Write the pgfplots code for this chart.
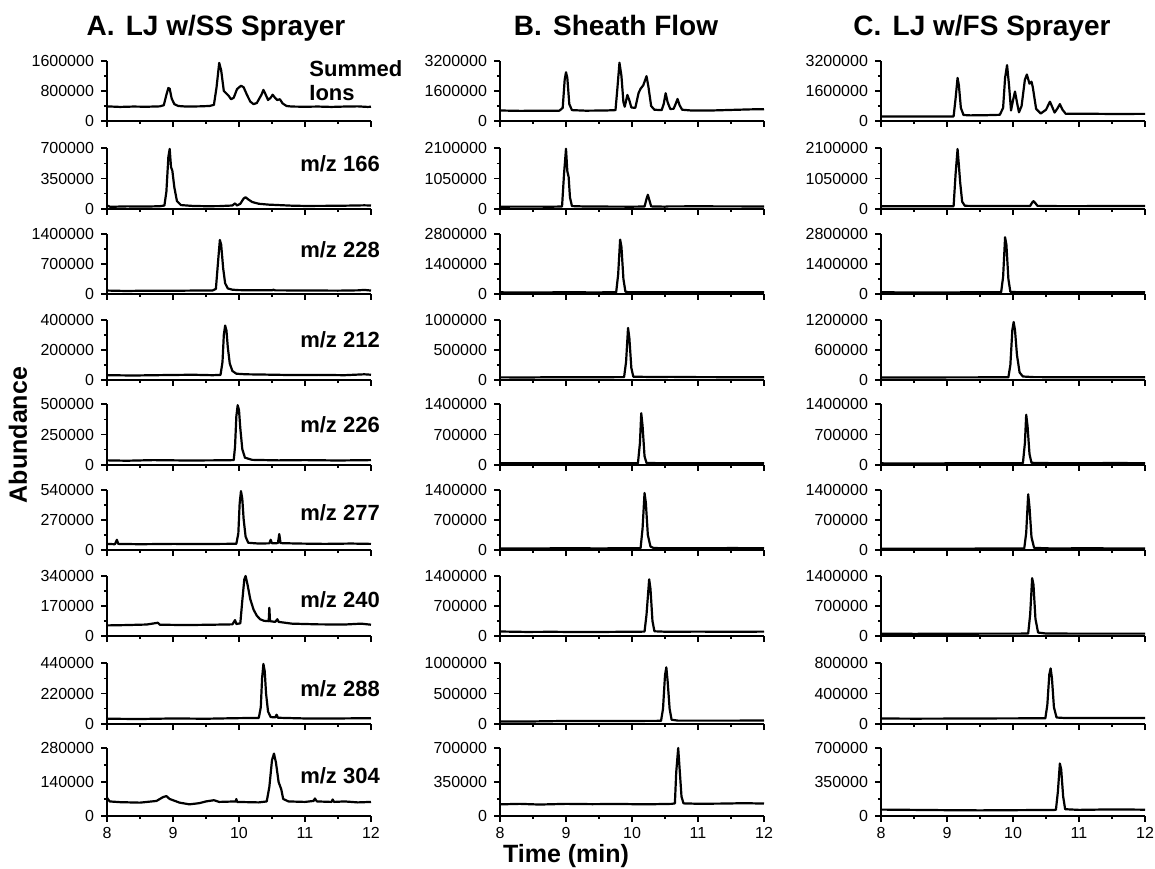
\documentclass[border=0pt]{standalone}
\usepackage{fontspec}
\setmainfont{Liberation Sans}
\usepackage{pgfplots}
\pgfplotsset{compat=1.18}

\pgfplotsset{
  chrom/.style={scale only axis, width=132pt, anchor=south west,
    axis x line=bottom, axis y line=left, axis line style={-, line width=0.8pt},
    xmin=8, xmax=12, ymin=0, xtick={8,9,10,11,12}, xticklabels={},
    minor x tick num=1, minor y tick num=1, tick align=outside,
    major tick length=3pt, minor tick length=1.6pt,
    every tick/.style={black, line width=0.6pt},
    scaled y ticks=false,
    tick label style={font=\fontsize{8}{9}\selectfont},
    xticklabel style={yshift=1pt},
    /pgf/number format/assume math mode=true, clip=false},
  tr/.style={black, line width=1.1pt, line join=round, mark=none},
}
\tikzset{lab/.style={anchor=east, font=\bfseries\fontsize{11}{12}\selectfont}}

\begin{document}
\begin{tikzpicture}
\path[use as bounding box] (0,0) rectangle (577.5pt,434pt);

\node[anchor=base, font=\bfseries\fontsize{14}{16}\selectfont] at (108pt,416pt) {A.\hspace{0.4em}LJ w/SS Sprayer};
\node[anchor=base, font=\bfseries\fontsize{14}{16}\selectfont] at (308pt,416pt) {B.\hspace{0.4em}Sheath Flow};
\node[anchor=base, font=\bfseries\fontsize{14}{16}\selectfont] at (491pt,416pt) {C.\hspace{0.4em}LJ w/FS Sprayer};
\node[font=\bfseries\fontsize{12.5}{14}\selectfont, rotate=90] at (9pt,216.5pt) {Abundance};
\node[font=\bfseries\fontsize{12.5}{14}\selectfont] at (283pt,6pt) {Time (min)};

% ---------------- column A ----------------
\begin{axis}[chrom, at={(53.5pt,373.5pt)}, height=30pt, ymax=1600000,
  ytick={0,800000,1600000}, yticklabels={0,800000,1600000}]
\addplot[tr] coordinates {(8.00,390000)(8.2,375000)(8.4,385000)(8.6,380000)(8.8,390000)(8.86,420000)(8.9,700000)(8.93,880000)(8.95,860000)(8.98,600000)(9.02,450000)(9.08,400000)(9.2,385000)(9.4,390000)(9.55,400000)(9.62,430000)(9.66,900000)(9.70,1550000)(9.73,1350000)(9.77,800000)(9.80,750000)(9.84,680000)(9.88,580000)(9.92,620000)(9.97,850000)(10.03,940000)(10.07,900000)(10.12,700000)(10.17,520000)(10.22,450000)(10.27,480000)(10.34,700000)(10.37,830000)(10.40,720000)(10.44,560000)(10.48,620000)(10.51,700000)(10.55,610000)(10.58,560000)(10.62,580000)(10.66,470000)(10.72,400000)(10.8,385000)(11.0,380000)(11.2,385000)(11.4,375000)(11.6,385000)(11.8,390000)(11.95,375000)(12.0,380000)};
\node[anchor=west, align=left, font=\bfseries\fontsize{11}{12}\selectfont] at (rel axis cs:0.74,0.68) {Summed\\Ions};
\end{axis}

\begin{axis}[chrom, at={(53.5pt,329.5pt)}, height=30.5pt, ymax=700000,
  ytick={0,350000,700000}, yticklabels={0,350000,700000}]
\addplot[tr] coordinates {(8.0,40000)(8.05,25000)(8.3,30000)(8.6,28000)(8.8,32000)(8.87,40000)(8.90,200000)(8.93,600000)(8.95,690000)(8.97,480000)(8.99,440000)(9.02,250000)(9.06,90000)(9.12,45000)(9.3,35000)(9.5,32000)(9.7,33000)(9.9,40000)(9.94,65000)(9.97,40000)(10.02,60000)(10.07,120000)(10.10,135000)(10.14,110000)(10.2,80000)(10.3,60000)(10.45,50000)(10.6,45000)(10.8,38000)(11.0,35000)(11.3,36000)(11.6,38000)(11.9,42000)(12.0,40000)};
\node[lab] at (rel axis cs:1.06,0.75) {m/z 166};
\end{axis}

\begin{axis}[chrom, at={(53.5pt,287pt)}, height=30pt, ymax=1400000,
  ytick={0,700000,1400000}, yticklabels={0,700000,1400000}]
\addplot[tr] coordinates {(8.0,80000)(8.3,70000)(8.6,78000)(9.0,75000)(9.3,80000)(9.6,82000)(9.65,120000)(9.68,700000)(9.71,1260000)(9.73,1150000)(9.76,600000)(9.79,250000)(9.83,130000)(9.9,100000)(10.0,90000)(10.5,85000)(10.52,100000)(10.55,85000)(11.0,82000)(11.5,78000)(11.8,85000)(11.9,95000)(12.0,80000)};
\node[lab] at (rel axis cs:1.06,0.73) {m/z 228};
\end{axis}

\begin{axis}[chrom, at={(53.5pt,244pt)}, height=30pt, ymax=400000,
  ytick={0,200000,400000}, yticklabels={0,200000,400000}]
\addplot[tr] coordinates {(8.0,32000)(8.4,30000)(8.9,33000)(9.3,35000)(9.6,32000)(9.72,34000)(9.75,120000)(9.77,300000)(9.79,363000)(9.81,330000)(9.83,220000)(9.86,110000)(9.9,60000)(9.96,42000)(10.1,38000)(10.4,36000)(10.8,33000)(11.2,34000)(11.6,32000)(11.9,38000)(12.0,35000)};
\node[lab] at (rel axis cs:1.06,0.67) {m/z 212};
\end{axis}

\begin{axis}[chrom, at={(53.5pt,201.5pt)}, height=30.5pt, ymax=500000,
  ytick={0,250000,500000}, yticklabels={0,250000,500000}]
\addplot[tr] coordinates {(8.0,38000)(8.3,35000)(8.7,40000)(9.2,37000)(9.6,38000)(9.92,40000)(9.94,150000)(9.96,400000)(9.98,490000)(10.00,450000)(10.02,300000)(10.05,130000)(10.09,60000)(10.2,42000)(10.6,38000)(11.0,40000)(11.5,37000)(12.0,40000)};
\node[lab] at (rel axis cs:1.06,0.66) {m/z 226};
\end{axis}

\begin{axis}[chrom, at={(53.5pt,159pt)}, height=30pt, ymax=540000,
  ytick={0,270000,540000}, yticklabels={0,270000,540000}]
\addplot[tr] coordinates {(8.0,55000)(8.12,52000)(8.15,92000)(8.17,55000)(8.5,52000)(9.0,55000)(9.5,54000)(9.96,56000)(9.99,150000)(10.01,420000)(10.03,530000)(10.05,460000)(10.07,280000)(10.1,120000)(10.14,65000)(10.3,58000)(10.46,60000)(10.48,92000)(10.5,60000)(10.59,62000)(10.61,143000)(10.63,62000)(10.9,58000)(11.3,55000)(11.7,58000)(12.0,55000)};
\node[lab] at (rel axis cs:1.06,0.62) {m/z 277};
\end{axis}

\begin{axis}[chrom, at={(53.5pt,116pt)}, height=30pt, ymax=340000,
  ytick={0,170000,340000}, yticklabels={0,170000,340000}]
\addplot[tr] coordinates {(8.0,60000)(8.3,62000)(8.6,65000)(8.77,75000)(8.8,64000)(9.2,62000)(9.6,64000)(9.9,66000)(9.94,90000)(9.96,68000)(10.02,72000)(10.05,200000)(10.08,320000)(10.1,340000)(10.13,290000)(10.17,210000)(10.22,150000)(10.27,115000)(10.32,95000)(10.38,86000)(10.45,84000)(10.46,160000)(10.47,84000)(10.55,80000)(10.58,95000)(10.6,80000)(10.8,70000)(11.2,66000)(11.6,65000)(11.85,70000)(12.0,64000)};
\node[lab] at (rel axis cs:1.06,0.6) {m/z 240};
\end{axis}

\begin{axis}[chrom, at={(53.5pt,72pt)}, height=30.5pt, ymax=440000,
  ytick={0,220000,440000}, yticklabels={0,220000,440000}]
\addplot[tr] coordinates {(8.0,38000)(8.5,36000)(9.0,40000)(9.5,38000)(9.95,42000)(10.3,44000)(10.33,120000)(10.35,330000)(10.37,433000)(10.39,380000)(10.41,220000)(10.44,90000)(10.48,50000)(10.55,48000)(10.57,67000)(10.59,45000)(11.0,40000)(11.5,40000)(12.0,42000)};
\node[lab] at (rel axis cs:1.06,0.57) {m/z 288};
\end{axis}

\begin{axis}[chrom, at={(53.5pt,26pt)}, height=34pt, ymax=280000,
  ytick={0,140000,280000}, yticklabels={0,140000,280000}, xticklabels={8,9,10,11,12}]
\addplot[tr] coordinates {(8.0,75000)(8.04,60000)(8.2,57000)(8.5,55000)(8.75,62000)(8.85,78000)(8.9,82000)(8.95,70000)(9.1,55000)(9.25,48000)(9.4,53000)(9.5,60000)(9.62,65000)(9.7,58000)(9.95,60000)(9.96,70000)(9.97,58000)(10.3,56000)(10.42,60000)(10.46,120000)(10.5,230000)(10.53,257000)(10.56,220000)(10.6,140000)(10.64,110000)(10.67,70000)(10.75,60000)(11.0,58000)(11.13,62000)(11.15,72000)(11.18,60000)(11.4,58000)(11.42,68000)(11.44,58000)(11.6,60000)(11.8,56000)(12.0,58000)};
\node[lab] at (rel axis cs:1.06,0.59) {m/z 304};
\end{axis}

% ---------------- column B ----------------
\begin{axis}[chrom, at={(250pt,373.5pt)}, height=30pt, ymax=3200000,
  ytick={0,1600000,3200000}, yticklabels={0,1600000,3200000}]
\addplot[tr] coordinates {(8.0,560000)(8.3,540000)(8.6,545000)(8.9,550000)(8.95,700000)(8.98,2200000)(9.0,2600000)(9.02,2300000)(9.05,900000)(9.09,580000)(9.3,550000)(9.6,560000)(9.75,580000)(9.78,1800000)(9.81,3110000)(9.84,2400000)(9.87,1000000)(9.89,760000)(9.93,1390000)(9.96,1100000)(9.99,720000)(10.05,700000)(10.1,1500000)(10.13,1720000)(10.17,1900000)(10.22,2390000)(10.25,1800000)(10.29,800000)(10.34,600000)(10.45,580000)(10.48,900000)(10.51,1480000)(10.54,1000000)(10.58,640000)(10.63,650000)(10.66,900000)(10.69,1175000)(10.72,850000)(10.76,600000)(10.9,560000)(11.2,560000)(11.5,590000)(11.8,620000)(12.0,630000)};
\end{axis}

\begin{axis}[chrom, at={(250pt,329.5pt)}, height=30.5pt, ymax=2100000,
  ytick={0,1050000,2100000}, yticklabels={0,1050000,2100000}]
\addplot[tr] coordinates {(8.0,80000)(8.4,82000)(8.8,80000)(8.94,85000)(8.97,1200000)(9.0,2077000)(9.02,1300000)(9.04,1100000)(9.06,400000)(9.09,100000)(9.3,85000)(9.7,82000)(10.0,80000)(10.19,85000)(10.22,350000)(10.24,490000)(10.26,330000)(10.29,90000)(10.5,80000)(10.55,90000)(11.0,92000)(11.5,90000)(12.0,88000)};
\end{axis}

\begin{axis}[chrom, at={(250pt,287pt)}, height=30pt, ymax=2800000,
  ytick={0,1400000,2800000}, yticklabels={0,1400000,2800000}]
\addplot[tr] coordinates {(8.0,77000)(8.5,75000)(9.0,78000)(9.5,76000)(9.76,80000)(9.79,900000)(9.82,2540000)(9.84,2200000)(9.87,700000)(9.9,110000)(9.95,80000)(10.5,78000)(11.0,80000)(11.5,77000)(12.0,78000)};
\end{axis}

\begin{axis}[chrom, at={(250pt,244pt)}, height=30pt, ymax=1000000,
  ytick={0,500000,1000000}, yticklabels={0,500000,1000000}]
\addplot[tr] coordinates {(8.0,44000)(8.4,42000)(8.8,46000)(9.2,45000)(9.6,47000)(9.88,48000)(9.91,300000)(9.94,868000)(9.96,700000)(9.99,200000)(10.02,55000)(10.3,50000)(10.6,52000)(11.0,48000)(11.5,47000)(12.0,46000)};
\end{axis}

\begin{axis}[chrom, at={(250pt,201.5pt)}, height=30.5pt, ymax=1400000,
  ytick={0,700000,1400000}, yticklabels={0,700000,1400000}]
\addplot[tr] coordinates {(8.0,39000)(8.5,38000)(9.0,40000)(9.5,39000)(10.0,40000)(10.09,42000)(10.12,500000)(10.14,1190000)(10.16,900000)(10.19,200000)(10.22,45000)(10.6,41000)(11.0,40000)(11.5,39000)(12.0,40000)};
\end{axis}

\begin{axis}[chrom, at={(250pt,159pt)}, height=30pt, ymax=1400000,
  ytick={0,700000,1400000}, yticklabels={0,700000,1400000}]
\addplot[tr] coordinates {(8.0,38000)(8.5,37000)(9.0,40000)(9.5,38000)(10.0,40000)(10.13,42000)(10.16,500000)(10.19,1330000)(10.21,1100000)(10.24,350000)(10.28,80000)(10.33,45000)(10.6,42000)(11.0,40000)(11.5,45000)(12.0,42000)};
\end{axis}

\begin{axis}[chrom, at={(250pt,116pt)}, height=30pt, ymax=1400000,
  ytick={0,700000,1400000}, yticklabels={0,700000,1400000}]
\addplot[tr] coordinates {(8.0,105000)(8.4,95000)(8.8,98000)(9.2,92000)(9.6,95000)(10.0,100000)(10.19,102000)(10.22,500000)(10.26,1323000)(10.28,1100000)(10.31,350000)(10.34,110000)(10.5,100000)(11.0,102000)(11.5,100000)(12.0,102000)};
\end{axis}

\begin{axis}[chrom, at={(250pt,72pt)}, height=30.5pt, ymax=1000000,
  ytick={0,500000,1000000}, yticklabels={0,500000,1000000}]
\addplot[tr] coordinates {(8.0,40000)(8.5,42000)(9.0,50000)(9.5,48000)(10.0,50000)(10.44,52000)(10.47,250000)(10.5,800000)(10.52,929000)(10.54,700000)(10.57,250000)(10.6,70000)(10.7,55000)(11.0,55000)(11.5,55000)(12.0,58000)};
\end{axis}

\begin{axis}[chrom, at={(250pt,26pt)}, height=34pt, ymax=700000,
  ytick={0,350000,700000}, yticklabels={0,350000,700000}, xticklabels={8,9,10,11,12}]
\addplot[tr] coordinates {(8.0,120000)(8.3,125000)(8.6,118000)(9.0,125000)(9.4,122000)(9.8,124000)(10.2,120000)(10.6,125000)(10.65,130000)(10.67,450000)(10.7,700000)(10.72,500000)(10.75,200000)(10.78,130000)(11.0,126000)(11.4,128000)(11.7,132000)(12.0,128000)};
\end{axis}

% ---------------- column C ----------------
\begin{axis}[chrom, at={(440.5pt,373.5pt)}, height=30pt, ymax=3200000,
  ytick={0,1600000,3200000}, yticklabels={0,1600000,3200000}]
\addplot[tr] coordinates {(8.0,240000)(8.3,235000)(8.6,238000)(9.0,240000)(9.1,245000)(9.13,1200000)(9.16,2300000)(9.18,1900000)(9.21,700000)(9.25,320000)(9.35,300000)(9.6,310000)(9.8,330000)(9.85,700000)(9.88,2300000)(9.91,2980000)(9.94,1900000)(9.97,560000)(10.0,1100000)(10.03,1570000)(10.06,1000000)(10.09,460000)(10.13,800000)(10.18,2200000)(10.21,2480000)(10.25,1990000)(10.28,2100000)(10.3,1800000)(10.35,650000)(10.42,400000)(10.5,600000)(10.56,1030000)(10.6,700000)(10.63,450000)(10.67,650000)(10.71,900000)(10.75,600000)(10.8,380000)(11.0,390000)(11.5,375000)(12.0,380000)};
\end{axis}

\begin{axis}[chrom, at={(440.5pt,329.5pt)}, height=30.5pt, ymax=2100000,
  ytick={0,1050000,2100000}, yticklabels={0,1050000,2100000}]
\addplot[tr] coordinates {(8.0,95000)(8.5,93000)(9.0,95000)(9.1,98000)(9.13,1200000)(9.16,2065000)(9.18,1500000)(9.2,900000)(9.23,250000)(9.27,110000)(9.5,100000)(10.0,102000)(10.26,105000)(10.29,220000)(10.31,268000)(10.34,200000)(10.37,108000)(10.6,100000)(11.0,98000)(11.5,105000)(12.0,100000)};
\end{axis}

\begin{axis}[chrom, at={(440.5pt,287pt)}, height=30pt, ymax=2800000,
  ytick={0,1400000,2800000}, yticklabels={0,1400000,2800000}]
\addplot[tr] coordinates {(8.0,78000)(8.5,75000)(9.0,76000)(9.5,78000)(9.82,80000)(9.85,800000)(9.88,2647000)(9.9,2300000)(9.93,700000)(9.96,100000)(10.1,80000)(10.5,78000)(11.0,80000)(11.5,82000)(12.0,80000)};
\end{axis}

\begin{axis}[chrom, at={(440.5pt,244pt)}, height=30pt, ymax=1200000,
  ytick={0,600000,1200000}, yticklabels={0,600000,1200000}]
\addplot[tr] coordinates {(8.0,52000)(8.5,50000)(9.0,52000)(9.5,53000)(9.93,55000)(9.96,300000)(9.99,1000000)(10.01,1160000)(10.03,1000000)(10.06,500000)(10.1,150000)(10.15,70000)(10.3,58000)(10.7,55000)(11.2,54000)(12.0,55000)};
\end{axis}

\begin{axis}[chrom, at={(440.5pt,201.5pt)}, height=30.5pt, ymax=1400000,
  ytick={0,700000,1400000}, yticklabels={0,700000,1400000}]
\addplot[tr] coordinates {(8.0,38000)(8.5,36000)(9.0,38000)(9.5,40000)(10.0,40000)(10.15,42000)(10.18,500000)(10.2,1154000)(10.22,900000)(10.25,250000)(10.28,50000)(10.6,42000)(11.0,40000)(11.5,45000)(12.0,42000)};
\end{axis}

\begin{axis}[chrom, at={(440.5pt,159pt)}, height=30pt, ymax=1400000,
  ytick={0,700000,1400000}, yticklabels={0,700000,1400000}]
\addplot[tr] coordinates {(8.0,32000)(8.5,30000)(9.0,31000)(9.5,33000)(10.0,33000)(10.17,35000)(10.2,400000)(10.23,1300000)(10.25,1000000)(10.28,300000)(10.32,50000)(10.6,35000)(11.0,40000)(11.5,38000)(12.0,35000)};
\end{axis}

\begin{axis}[chrom, at={(440.5pt,116pt)}, height=30pt, ymax=1400000,
  ytick={0,700000,1400000}, yticklabels={0,700000,1400000}]
\addplot[tr] coordinates {(8.0,55000)(8.5,50000)(9.0,52000)(9.5,55000)(10.0,55000)(10.23,57000)(10.26,500000)(10.29,1350000)(10.31,1200000)(10.34,400000)(10.38,80000)(10.5,58000)(11.0,55000)(11.5,56000)(12.0,55000)};
\end{axis}

\begin{axis}[chrom, at={(440.5pt,72pt)}, height=30.5pt, ymax=800000,
  ytick={0,400000,800000}, yticklabels={0,400000,800000}]
\addplot[tr] coordinates {(8.0,72000)(8.5,70000)(9.0,71000)(9.5,73000)(10.0,74000)(10.49,75000)(10.52,250000)(10.55,650000)(10.57,729000)(10.59,600000)(10.62,220000)(10.66,85000)(10.8,78000)(11.0,80000)(11.5,80000)(12.0,78000)};
\end{axis}

\begin{axis}[chrom, at={(440.5pt,26pt)}, height=34pt, ymax=700000,
  ytick={0,350000,700000}, yticklabels={0,350000,700000}, xticklabels={8,9,10,11,12}]
\addplot[tr] coordinates {(8.0,66000)(8.5,63000)(9.0,60000)(9.5,58000)(10.0,60000)(10.5,62000)(10.65,63000)(10.68,250000)(10.71,540000)(10.73,480000)(10.76,200000)(10.79,70000)(11.0,63000)(11.5,68000)(12.0,65000)};
\end{axis}

\end{tikzpicture}
\end{document}
